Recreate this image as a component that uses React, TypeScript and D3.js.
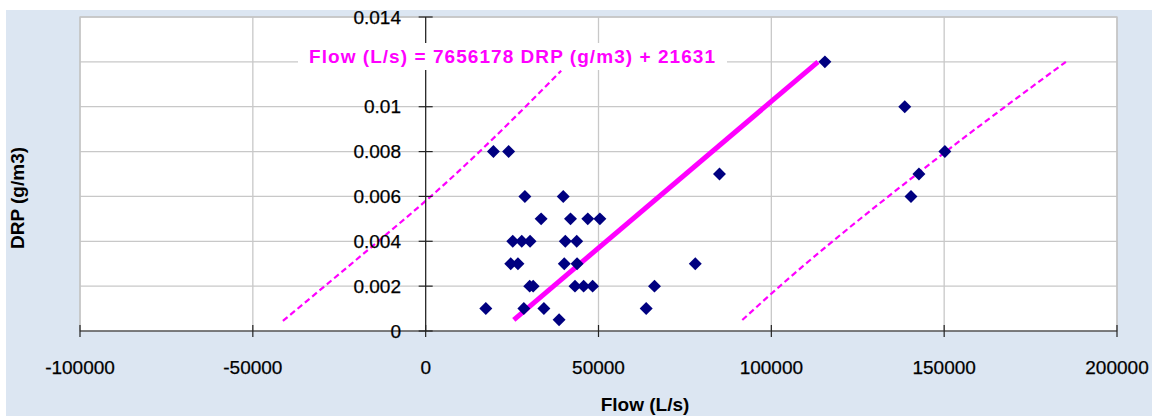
import React from 'react';
import * as d3 from 'd3';

const W = 1159;
const H = 416;

// Observed data: Flow (L/s) vs DRP (g/m3)
const flowValues = [
  19600, 24000, 28700, 39800, 33400, 41900, 46900, 50400,
  25200, 27800, 30200, 40400, 43700,
  24600, 26700, 40100, 43800, 78000,
  30100, 31100, 43200, 45700, 48300, 66200,
  17400, 28400, 34200, 63800, 38600,
  115500, 138600, 150200, 142700, 140400, 85000,
];
const drpValues = [
  0.008, 0.008, 0.006, 0.006, 0.005, 0.005, 0.005, 0.005,
  0.004, 0.004, 0.004, 0.004, 0.004,
  0.003, 0.003, 0.003, 0.003, 0.003,
  0.002, 0.002, 0.002, 0.002, 0.002, 0.002,
  0.001, 0.001, 0.001, 0.001, 0.0005,
  0.012, 0.01, 0.008, 0.007, 0.006, 0.007,
];

// Trend line endpoints (DRP, Flow)
const trendDrp = [0.0005, 0.012];
const trendFlow = [25500, 113500];

// Prediction band lines (DRP, Flow)
const lowerBandDrp = [0.00045, 0.0039, 0.0058, 0.0116];
const lowerBandFlow = [-41300, -14500, 0, 39200];
const upperBandDrp = [0.00049, 0.0018, 0.008, 0.012];
const upperBandFlow = [91600, 101000, 150500, 185200];

const xTicks = [-100000, -50000, 0, 50000, 100000, 150000, 200000];
const xTickLabels = ['-100000', '-50000', '0', '50000', '100000', '150000', '200000'];
const yTicks = [0, 0.002, 0.004, 0.006, 0.008, 0.01, 0.012, 0.014];
// the 0.012 label is hidden behind the equation box in the reference
const yTickLabels = ['0', '0.002', '0.004', '0.006', '0.008', '0.01', '', '0.014'];

const equationText = 'Flow (L/s) = 7656178 DRP (g/m3) + 21631';
const xTitle = 'Flow (L/s)';
const yTitle = 'DRP (g/m3)';

const FONT = "'Liberation Sans', Arial, sans-serif";

export default function App() {
  const left = 80, right = 1117, top = 17, bottom = 331;
  const x = d3.scaleLinear().domain([-100000, 200000]).range([left, right]);
  const y = d3.scaleLinear().domain([0, 0.014]).range([bottom, top]);

  const line = d3
    .line<[number, number]>()
    .x((d) => x(d[1]))
    .y((d) => y(d[0]));
  const curve = d3
    .line<[number, number]>()
    .x((d) => x(d[1]))
    .y((d) => y(d[0]))
    .curve(d3.curveMonotoneY);

  const trend = trendDrp.map((v, i) => [v, trendFlow[i]] as [number, number]);
  const lower = lowerBandDrp.map((v, i) => [v, lowerBandFlow[i]] as [number, number]);
  const upper = upperBandDrp.map((v, i) => [v, upperBandFlow[i]] as [number, number]);

  const diamond = d3.symbol(d3.symbolSquare, 84)() as string;
  const x0 = x(0);

  return (
    <svg width={W} height={H} style={{ position: 'absolute', left: 0, top: 0 }}>
      <rect x={0} y={0} width={W} height={H} fill="#ffffff" />
      <rect x={6} y={10} width={1146} height={H - 10} fill="#dce6f2" />
      <rect x={left} y={top} width={right - left} height={bottom - top} fill="#ffffff" />
      {/* gridlines */}
      {yTicks.slice(1).map((t) => (
        <line key={'gy' + t} x1={left} x2={right} y1={y(t)} y2={y(t)} stroke="#c8c8c8" strokeWidth={1.3} />
      ))}
      {xTicks.map((t) => (
        <line key={'gx' + t} x1={x(t)} x2={x(t)} y1={top} y2={bottom} stroke="#c8c8c8" strokeWidth={1.3} />
      ))}
      <rect x={left} y={top} width={right - left} height={bottom - top} fill="none" stroke="#c4c4c4" strokeWidth={1.3} />

      {/* bands */}
      <path d={curve(lower) as string} fill="none" stroke="#ff00ff" strokeWidth={2.2} strokeDasharray="6,3.5" />
      <path d={curve(upper) as string} fill="none" stroke="#ff00ff" strokeWidth={2.2} strokeDasharray="6,3.5" />
      {/* trend */}
      <path d={line(trend) as string} fill="none" stroke="#ff00ff" strokeWidth={5} />

      {/* points */}
      {flowValues.map((f, i) => (
        <path
          key={'p' + i}
          d={diamond}
          transform={`translate(${x(f)},${y(drpValues[i])}) rotate(45)`}
          fill="#000080"
        />
      ))}

      {/* axes */}
      <line x1={left} x2={right} y1={bottom} y2={bottom} stroke="#222" strokeWidth={1.2} />
      <line x1={x0} x2={x0} y1={top} y2={bottom} stroke="#222" strokeWidth={1.2} />
      {xTicks.map((t) => (
        <line key={'tx' + t} x1={x(t)} x2={x(t)} y1={bottom - 6} y2={bottom + 6} stroke="#222" strokeWidth={1.2} />
      ))}
      {yTicks.map((t) => (
        <line key={'ty' + t} x1={x0 - 7} x2={x0 + 7} y1={y(t)} y2={y(t)} stroke="#222" strokeWidth={1.2} />
      ))}
      {xTicks.map((t, i) => (
        <text key={'lx' + t} x={x(t)} y={374} textAnchor="middle" fontFamily={FONT} fontSize={19} fill="#000" stroke="#000" strokeWidth={0.25}>
          {xTickLabels[i]}
        </text>
      ))}
      {yTicks.map((t, i) =>
        yTickLabels[i] ? (
          <text key={'ly' + t} x={401} y={y(t)} dy="0.35em" textAnchor="end" fontFamily={FONT} fontSize={19} fill="#000" stroke="#000" strokeWidth={0.25}>
            {yTickLabels[i]}
          </text>
        ) : null
      )}

      {/* equation label */}
      <rect x={298} y={43} width={429} height={27} fill="#ffffff" />
      <text
        x={309}
        y={63}
        fontFamily={FONT}
        fontSize={19}
        fontWeight="bold"
        fill="#ff00ff"
        textLength={406}
        lengthAdjust="spacing"
      >
        {equationText}
      </text>

      {/* titles */}
      <text x={645} y={411} textAnchor="middle" fontFamily={FONT} fontSize={19} fontWeight="bold" fill="#000">
        {xTitle}
      </text>
      <text
        transform="translate(24,198) rotate(-90)"
        textAnchor="middle"
        fontFamily={FONT}
        fontSize={19}
        fontWeight="bold"
        fill="#000"
      >
        {yTitle}
      </text>
    </svg>
  );
}
